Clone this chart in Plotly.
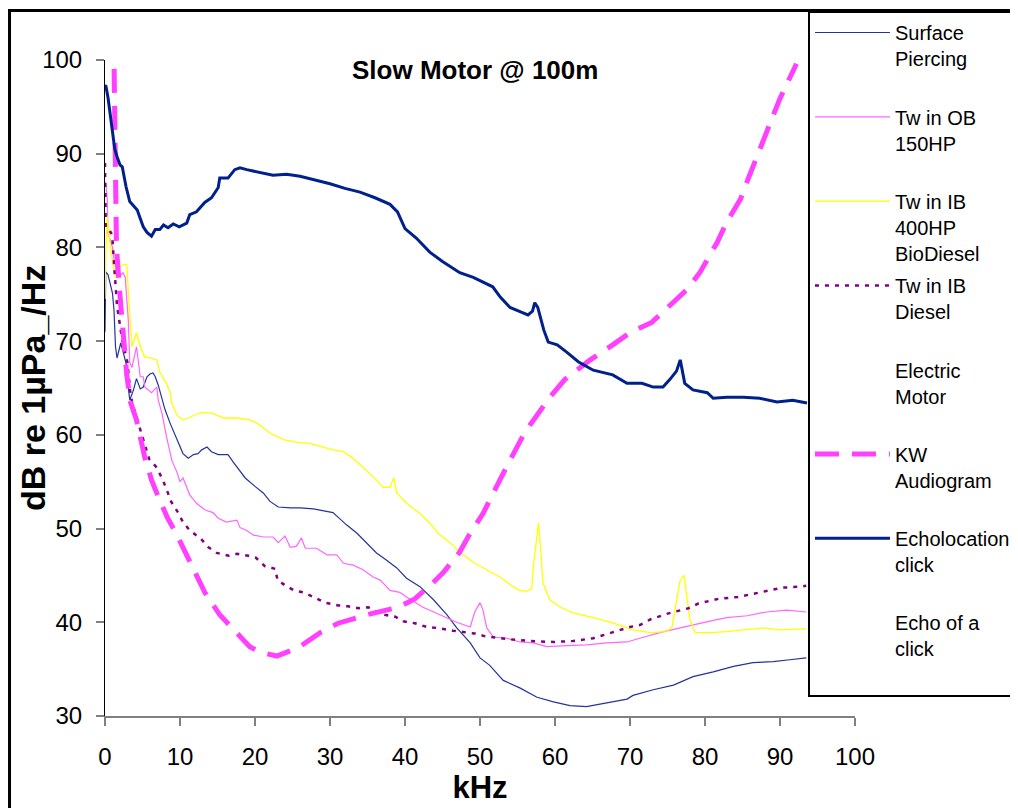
import plotly.graph_objects as go

# ---------------- data ----------------
sp_khz = [0, 0.1, 0.4, 1.0, 1.2, 1.4, 1.6, 2.1, 2.4, 2.9, 3.1, 3.3, 3.8, 4.2, 4.7, 5.1, 5.6, 6.0, 6.4, 6.7,
          7.1, 7.6, 8.0, 8.7, 9.6, 10.4, 11.1, 11.8, 12.4, 12.9, 13.6, 14.2, 15.1, 16.4, 17.1, 17.8, 18.7,
          20.0, 21.1, 22.0, 23.1, 24.7, 26.0, 27.8, 29.1, 30.4, 31.1, 32.2, 33.6, 34.9, 36.2, 37.6, 38.9,
          40.2, 42.0, 43.8, 45.6, 46.9, 48.7, 50.0, 51.3, 53.1, 55.3, 57.6, 59.8, 62.0, 64.2, 66.9, 69.6,
          70.4, 73.1, 75.8, 78.4, 81.1, 83.8, 86.4, 89.1, 91.3, 93.5]
sp_db = [71.0, 77.4, 77.1, 75.1, 73.3, 69.4, 68.2, 69.8, 68.9, 67.3, 65.1, 63.7, 64.8, 66.0, 64.9, 65.1, 66.2,
         66.5, 66.6, 66.2, 65.3, 63.7, 62.7, 61.2, 59.5, 58.0, 57.5, 57.9, 58.0, 58.4, 58.7, 58.2, 57.9, 57.9,
         57.1, 56.3, 55.4, 54.5, 53.8, 52.9, 52.3, 52.2, 52.2, 52.1, 51.9, 51.7, 51.2, 50.4, 49.5, 48.5, 47.4,
         46.6, 45.8, 44.7, 43.8, 42.4, 40.8, 39.4, 37.8, 36.2, 35.4, 33.8, 33.0, 32.0, 31.5, 31.1, 31.0, 31.4,
         31.8, 32.2, 32.8, 33.3, 34.2, 34.7, 35.3, 35.7, 35.8, 36.0, 36.2]

ob_khz = [0, 0.1, 0.3, 0.4, 0.7, 1.0, 1.2, 1.6, 2.2, 2.4, 2.7, 3.1, 3.3, 3.6, 4.2, 4.4, 4.7, 5.1, 5.3, 6.2,
          6.9, 7.1, 7.6, 8.2, 8.9, 9.6, 10.0, 10.4, 11.3, 12.2, 13.3, 14.4, 15.1, 16.2, 17.6, 18.0, 18.9,
          19.8, 21.1, 22.4, 23.1, 24.0, 24.7, 25.5, 26.2, 26.7, 28.2, 29.6, 30.9, 31.8, 33.1, 34.4, 35.8,
          36.7, 38.0, 39.3, 40.2, 42.4, 44.7, 46.9, 48.7, 49.3, 50.0, 50.4, 50.9, 51.8, 53.6, 55.3, 57.1,
          58.9, 61.6, 64.2, 66.9, 69.6, 71.3, 74.0, 76.7, 79.3, 81.1, 82.9, 85.6, 88.2, 90.9, 93.5]
ob_db = [87.0, 86.9, 85.1, 81.5, 80.8, 80.0, 78.7, 77.3, 77.1, 77.3, 76.8, 72.3, 67.7, 67.2, 69.4, 68.3, 66.2,
         66.2, 65.1, 64.5, 65.1, 63.7, 62.3, 59.8, 57.3, 56.0, 55.0, 55.4, 53.6, 52.7, 52.0, 51.7, 51.1, 50.7,
         50.9, 50.1, 49.8, 49.3, 49.1, 49.1, 48.5, 49.2, 48.0, 48.1, 49.0, 47.9, 47.9, 47.2, 47.2, 46.3, 46.1,
         45.6, 44.8, 44.5, 43.4, 43.2, 42.7, 41.6, 40.8, 40.0, 39.5, 41.1, 42.1, 41.3, 39.4, 38.4, 38.3, 37.9,
         37.8, 37.4, 37.5, 37.6, 37.8, 37.9, 38.3, 38.9, 39.4, 39.9, 40.2, 40.5, 40.7, 41.1, 41.3, 41.1]

bio_khz = [0, 0.1, 0.3, 0.4, 0.7, 1.0, 1.4, 1.8, 2.2, 2.9, 3.2, 3.6, 4.2, 4.7, 5.3, 6.2, 6.9, 7.3, 8.2, 8.7,
           8.9, 9.6, 10.4, 11.1, 12.2, 12.9, 14.4, 15.8, 17.6, 19.3, 20.2, 22.0, 23.8, 25.6, 27.3, 29.1,
           30.4, 31.8, 32.9, 34.0, 35.1, 36.2, 37.1, 38.0, 38.5, 38.9, 40.2, 42.0, 43.3, 44.4, 46.0, 47.3,
           49.1, 51.3, 52.9, 54.4, 55.3, 56.2, 56.9, 57.1, 57.6, 57.8, 58.1, 58.4, 59.3, 60.7, 62.4, 65.1,
           67.8, 69.6, 70.4, 72.7, 74.9, 75.6, 76.2, 76.7, 77.2, 77.6, 78.0, 78.7, 80.7, 82.9, 85.1, 87.8,
           90.0, 93.5]
bio_db = [74.5, 79.0, 83.3, 82.2, 80.3, 78.5, 76.8, 77.6, 78.1, 78.2, 74.0, 69.4, 70.9, 69.4, 68.3, 68.2, 68.0,
          66.7, 65.5, 64.5, 63.4, 62.1, 61.6, 61.8, 62.2, 62.4, 62.3, 61.8, 61.8, 61.6, 61.3, 60.2, 59.5, 59.2,
          59.1, 58.7, 58.4, 58.2, 57.6, 56.8, 56.0, 55.2, 54.4, 54.4, 55.4, 53.8, 52.7, 51.6, 50.6, 49.5, 48.5,
          47.5, 46.4, 45.4, 44.7, 43.8, 43.4, 43.3, 43.6, 45.9, 49.5, 50.6, 47.7, 44.2, 42.4, 41.6, 41.0, 40.5,
          39.9, 39.4, 39.2, 38.9, 39.0, 39.5, 42.1, 44.5, 45.0, 42.7, 40.2, 38.9, 38.9, 39.0, 39.2, 39.4, 39.2,
          39.3]

dsl_khz = [0, 0.1, 0.8, 1.0, 1.2, 1.6, 1.9, 2.3, 3.0, 3.4, 3.7, 4.0, 4.6, 5.1, 5.5, 5.9, 6.8, 7.6, 8.2, 8.8,
           9.6, 10.4, 11.3, 12.8, 13.8, 14.9, 16.5, 17.6, 19.1, 20.1, 21.3, 22.7, 23.0, 24.1, 25.2, 26.4,
           27.8, 29.3, 31.1, 32.4, 33.8, 35.1, 36.3, 37.3, 38.7, 39.8, 41.3, 42.9, 44.2, 46.4, 49.3, 50.7,
           53.8, 56.7, 59.8, 62.4, 65.1, 67.6, 70.0, 71.3, 72.7, 74.9, 76.7, 77.8, 79.1, 81.8, 84.4, 87.3,
           90.4, 92.7, 93.5]
dsl_db = [89.0, 82.0, 81.6, 80.8, 78.3, 73.8, 72.2, 70.1, 67.7, 64.3, 63.2, 62.4, 60.8, 59.7, 58.4, 57.4, 56.6,
          55.4, 54.2, 52.9, 51.9, 50.7, 49.8, 48.9, 48.0, 47.4, 47.1, 47.3, 47.1, 46.9, 46.0, 45.7, 44.5, 43.9,
          43.4, 43.2, 42.7, 42.1, 41.8, 41.7, 41.5, 41.6, 41.1, 40.8, 40.6, 40.1, 39.9, 39.5, 39.4, 39.1, 38.8,
          38.5, 38.2, 38.0, 37.9, 38.0, 38.3, 38.9, 39.5, 39.7, 40.3, 40.9, 41.3, 41.5, 42.0, 42.5, 42.7, 43.2,
          43.7, 43.8, 43.9]

# Electric Motor and Echo of a click have no visible values in the picture
em_khz = [None]
em_db = [None]
eoc_khz = [None]
eoc_db = [None]

kw_khz = [1.15, 1.2, 1.27, 1.53, 1.93, 2.4, 2.9, 3.4, 4.2, 5.3, 6.2, 7.1, 8.3, 9.6, 10.7, 12.2, 13.3, 15.3,
          16.9, 19.3, 20.7, 22.9, 25.8, 28.7, 31.1, 34.9, 39.1, 41.3, 43.3, 45.1, 47.3, 48.4, 50.4, 51.6,
          53.1, 54.4, 56.0, 57.6, 59.3, 61.3, 62.9, 64.7, 67.7, 70.0, 72.9, 74.9, 77.6, 79.3, 81.6, 82.9,
          84.7, 85.7, 86.9, 87.7, 89.1, 90.0, 91.6, 92.2]
kw_db = [103.0, 100.0, 90.4, 80.0, 75.5, 70.6, 66.4, 63.5, 61.6, 57.6, 55.2, 53.4, 51.2, 49.3, 47.5, 45.0,
         43.2, 40.8, 39.4, 37.4, 36.8, 36.4, 37.3, 38.9, 39.9, 40.8, 41.6, 42.5, 43.9, 45.3, 47.5, 49.1, 51.6,
         53.4, 55.9, 57.9, 60.3, 62.1, 64.0, 65.9, 66.9, 68.0, 69.6, 70.9, 72.0, 73.5, 75.5, 77.3, 80.5, 82.7,
         85.1, 87.2, 89.7, 91.5, 94.1, 95.9, 98.6, 99.6]

echo_khz = [0, 0.1, 0.4, 0.7, 1.0, 1.3, 1.6, 2.0, 2.3, 2.8, 3.3, 3.8, 4.3, 4.7, 5.1, 5.6, 6.2, 6.7, 7.3, 7.8,
            8.4, 9.1, 9.9, 10.9, 11.3, 12.2, 13.3, 14.2, 15.1, 15.3, 16.4, 17.3, 18.0, 18.9, 20.7, 22.4,
            24.2, 26.0, 28.0, 30.0, 32.0, 34.0, 36.0, 38.0, 39.0, 40.0, 41.5, 43.3, 45.0, 47.3, 49.1, 50.5,
            51.7, 52.7, 54.0, 55.5, 56.4, 57.0, 57.3, 57.7, 58.0, 58.5, 59.1, 60.3, 61.6, 63.1, 65.1, 67.7,
            69.6, 71.6, 73.1, 74.4, 75.3, 76.2, 76.7, 77.3, 78.4, 80.3, 81.1, 82.9, 85.1, 87.3, 89.6, 91.7,
            93.6]
echo_db = [97.2, 97.3, 96.0, 94.3, 92.5, 90.5, 89.7, 88.8, 88.6, 86.5, 84.9, 84.4, 84.0, 83.1, 82.2, 81.6,
           81.2, 81.9, 81.9, 82.4, 82.1, 82.5, 82.2, 82.6, 83.5, 83.8, 84.8, 85.3, 86.4, 87.4, 87.4, 88.3, 88.5,
           88.3, 88.0, 87.7, 87.8, 87.6, 87.2, 86.8, 86.3, 85.9, 85.3, 84.6, 83.8, 82.0, 81.0, 79.5, 78.5, 77.3,
           76.8, 76.3, 75.8, 74.7, 73.6, 73.1, 72.8, 73.2, 74.1, 73.6, 72.6, 71.2, 69.9, 69.6, 68.8, 67.8, 66.9,
           66.4, 65.5, 65.5, 65.1, 65.1, 65.9, 66.8, 68.0, 65.5, 64.8, 64.5, 63.9, 64.0, 64.0, 63.9, 63.5, 63.7,
           63.4]

series_names = ["Surface<br>Piercing<br> ", "Tw in OB<br>150HP<br> ", "Tw in IB<br>400HP<br>BioDiesel",
                "Tw in IB<br>Diesel<br> ", "Electric<br>Motor<br> ", "KW<br>Audiogram<br> ",
                "Echolocation<br>click<br> ", "Echo of a<br>click<br> "]

x_ticks = [0, 10, 20, 30, 40, 50, 60, 70, 80, 90, 100]
y_ticks = [30, 40, 50, 60, 70, 80, 90, 100]

FONT = "Arial, 'Liberation Sans', sans-serif"

fig = go.Figure()


def add(name, x, y, color, width, dash="solid"):
    fig.add_trace(go.Scatter(x=x, y=y, mode="lines", name=name, legendgroup=name,
                             line=dict(color=color, width=width, dash=dash)))


add(series_names[0], sp_khz, sp_db, "#24349C", 1.2)
add(series_names[1], ob_khz, ob_db, "#FF66FF", 1.2)
add(series_names[2], bio_khz, bio_db, "#FFFF00", 1.3)
add(series_names[3], dsl_khz, dsl_db, "#800080", 2.5, "4px,6px")
add(series_names[4], em_khz, em_db, "rgba(255,255,255,0)", 1)
add(series_names[5], kw_khz, kw_db, "#FF40FF", 5, "24px,13px")
add(series_names[6], echo_khz, echo_db, "#00208C", 3)
add(series_names[7], eoc_khz, eoc_db, "rgba(255,255,255,0)", 1)

fig.update_layout(
    width=1018, height=808,
    margin=dict(l=97, r=171, t=52, b=100, autoexpand=False),
    paper_bgcolor="white", plot_bgcolor="white",
    font=dict(family=FONT, color="black"),
    showlegend=True,
    legend=dict(xref="paper", yref="container", x=0.9373, y=0.9963, xanchor="left", yanchor="top",
                bgcolor="white", bordercolor="black", borderwidth=2, maxheight=1,
                font=dict(family=FONT, size=20, color="black"),
                tracegroupgap=3.3, itemwidth=75, valign="top", traceorder="grouped"),
    xaxis=dict(range=[0, 100], tickvals=x_ticks, showgrid=False, zeroline=False,
               showline=True, linecolor="#808080", linewidth=1.5,
               ticks="outside", ticklen=8, tickcolor="#808080", tickwidth=1.5,
               tickfont=dict(size=24, family=FONT, color="black"), ticklabelstandoff=10,
               title=dict(text="<b>kHz</b>", font=dict(size=31, family=FONT, color="black"), standoff=4)),
    yaxis=dict(range=[30, 100], tickvals=y_ticks, showgrid=False, zeroline=False,
               showline=True, linecolor="black", linewidth=1,
               ticks="outside", ticklen=8, tickcolor="#808080", tickwidth=1.5,
               tickfont=dict(size=24, family=FONT, color="black"), ticklabelstandoff=9),
    annotations=[
        dict(text="<b>Slow Motor @ 100m</b>", xref="paper", yref="paper", x=0.4933, y=0.9848,
             xanchor="center", yanchor="middle", showarrow=False,
             font=dict(size=26, family=FONT, color="black")),
        dict(text="<b>dB re 1µPa_/Hz</b>", xref="paper", yref="paper", x=-0.096, y=0.5,
             xanchor="center", yanchor="middle", textangle=-90, showarrow=False,
             font=dict(size=34, family=FONT, color="black")),
    ],
    shapes=[dict(type="rect", xref="paper", yref="paper", x0=-0.1273, x1=1.25, y0=-0.2, y1=1.0755,
                 line=dict(color="black", width=3), fillcolor="rgba(0,0,0,0)", layer="below")],
)

fig.write_html("out.html")
